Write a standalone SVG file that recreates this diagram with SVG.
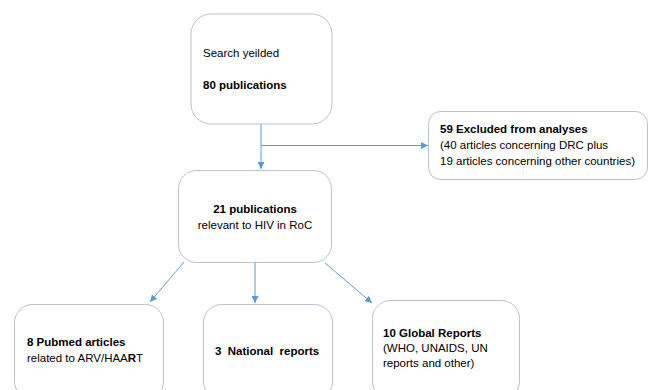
<svg xmlns="http://www.w3.org/2000/svg" width="656" height="390" viewBox="0 0 656 390">
<style>
.box{fill:#fff;stroke:#b7c3d3;stroke-width:1}
text{font-family:"Liberation Sans",Arial,sans-serif;font-size:11.5px;fill:#000}
.b{font-weight:bold}
.c{stroke:#5b9bd5;stroke-width:1;fill:none}
</style>
<defs>
<marker id="ah" viewBox="0 0 10 10" refX="10" refY="5" markerWidth="7" markerHeight="7" orient="auto" markerUnits="userSpaceOnUse">
<path d="M0,0 L10,5 L0,10 z" fill="#5b9bd5"/>
</marker>
</defs>
<rect width="656" height="390" fill="#fff"/>
<g id="connectors">
<path class="c" d="M261,124 V169" marker-end="url(#ah)"/>
<path class="c" d="M261,145.5 H428" marker-end="url(#ah)"/>
<path class="c" d="M184,262 L150,302" marker-end="url(#ah)"/>
<path class="c" d="M255,263 V303" marker-end="url(#ah)"/>
<path class="c" d="M325,263 L372,303" marker-end="url(#ah)"/>
</g>
<g id="search">
<rect class="box" x="191" y="14" width="141" height="110" rx="20"/>
<text x="203" y="57">Search yeilded</text>
<text x="203" y="89" class="b">80 publications</text>
</g>
<g id="excluded">
<rect class="box" x="428.5" y="111.5" width="219" height="68" rx="12"/>
<text x="440" y="133" class="b">59 Excluded from analyses</text>
<text x="440" y="149">(40 articles concerning DRC plus</text>
<text x="440" y="165">19 articles concerning other countries)</text>
</g>
<g id="relevant">
<rect class="box" x="178.5" y="170.5" width="153" height="92" rx="18"/>
<text x="255" y="213" class="b" text-anchor="middle">21 publications</text>
<text x="255" y="229" text-anchor="middle">relevant to HIV in RoC</text>
</g>
<g id="pubmed">
<rect class="box" x="14.5" y="304.5" width="149" height="95" rx="18"/>
<text x="27" y="346" class="b">8 Pubmed articles</text>
<text x="27" y="362">related to ARV/HAA<tspan class="b">R</tspan>T</text>
</g>
<g id="national">
<rect class="box" x="203.5" y="304.5" width="129" height="95" rx="18"/>
<text x="215" y="355" class="b" xml:space="preserve">3  National  reports</text>
</g>
<g id="global">
<rect class="box" x="372.5" y="300.5" width="147" height="99" rx="18"/>
<text x="383" y="337" class="b">10 Global Reports</text>
<text x="383" y="352">(WHO, UNAIDS, UN</text>
<text x="383" y="367">reports and other)</text>
</g>
</svg>
